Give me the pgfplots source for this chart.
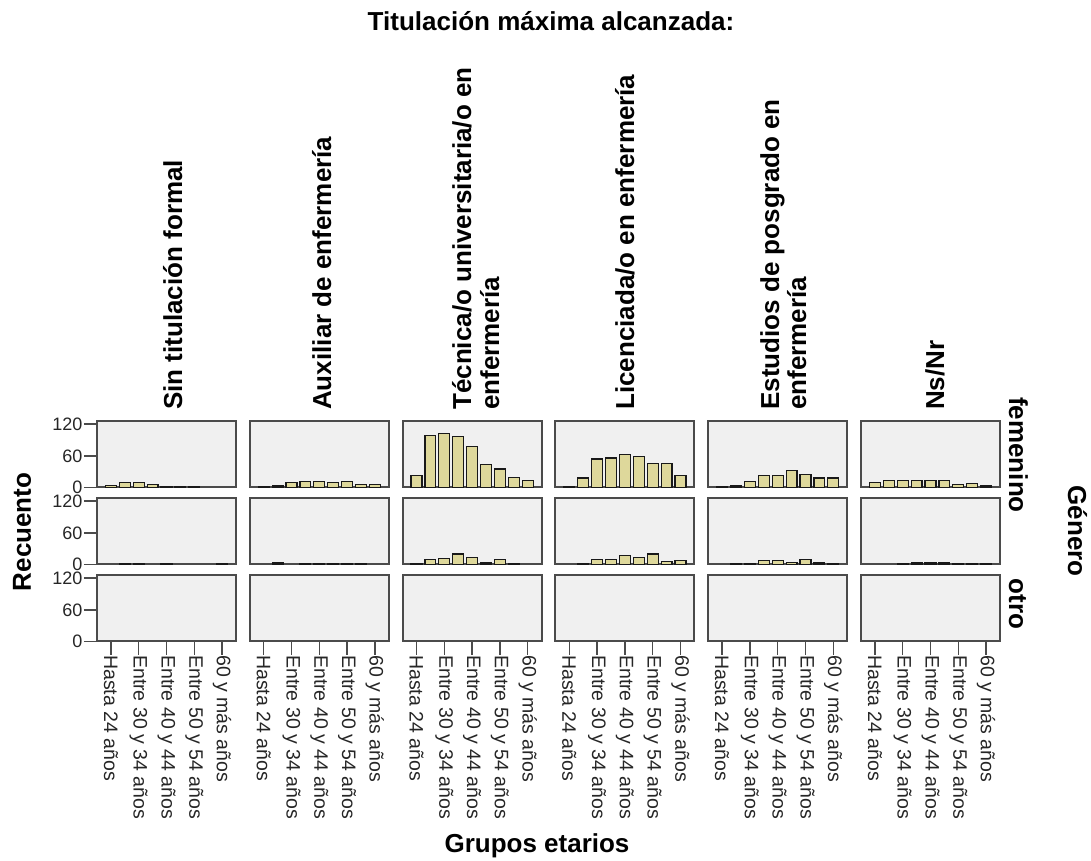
\documentclass[border=0pt]{standalone}
\usepackage{fontspec}
\setmainfont{Liberation Sans}
\usepackage{pgfplots}
\pgfplotsset{compat=1.18}
\definecolor{panelbg}{RGB}{240,240,240}
\definecolor{framecol}{RGB}{75,75,75}
\definecolor{barfill}{RGB}{222,216,155}
\pgfplotsset{
 panel/.style={
  scale only axis, width=139pt, height=66.5pt, anchor=south west,
  xmin=0, xmax=10, ymin=0, ymax=126,
  axis background/.style={fill=panelbg},
  axis line style={draw=framecol, line width=2pt},
  xtick=\empty, ytick=\empty,
  tick style={draw=framecol, line width=1.5pt},
  tick align=outside, major tick length=13pt,
  /pgf/number format/assume math mode=true,
  ticklabel style={text=black!85},
  yticklabel style={font=\fontsize{18}{20}\selectfont, inner sep=1.5pt},
  xticklabel style={font=\fontsize{19.5}{21}\selectfont},
 },
 firstcol/.style={ytick={0,60,120}, ytick pos=left},
 lastrow/.style={xtick={1,3,5,7,9},
  xticklabels={Hasta 24 años, Entre 30 y 34 años, Entre 40 y 44 años, Entre 50 y 54 años, 60 y más años},
  xtick pos=bottom, xticklabel style={rotate=-90, anchor=west, inner sep=0.5pt}},
 bars/.style={ybar, bar width=0.78, fill=barfill, draw=black!90, line width=1.2pt},
}
\newcommand\hdr{\fontsize{26}{30}\selectfont\bfseries}
\begin{document}
\begin{tikzpicture}[x=1pt,y=1pt]
\useasboundingbox (0,0) rectangle (1091,861);
% ---- row 1: femenino ----
\begin{axis}[panel, firstcol, at={(97pt,373.5pt)}]
\addplot[bars] coordinates {(1,4) (2,9) (3,10) (4,5) (5,1) (6,1) (7,1)};
\end{axis}
\begin{axis}[panel, at={(249.8pt,373.5pt)}]
\addplot[bars] coordinates {(1,2) (2,3) (3,9) (4,11) (5,11) (6,9) (7,12) (8,5) (9,5)};
\end{axis}
\begin{axis}[panel, at={(402.6pt,373.5pt)}]
\addplot[bars] coordinates {(1,22) (2,98) (3,102) (4,97) (5,77) (6,44) (7,35) (8,19) (9,13)};
\end{axis}
\begin{axis}[panel, at={(555.4pt,373.5pt)}]
\addplot[bars] coordinates {(1,1) (2,18) (3,54) (4,56) (5,63) (6,58) (7,46) (8,46) (9,22)};
\end{axis}
\begin{axis}[panel, at={(708.2pt,373.5pt)}]
\addplot[bars] coordinates {(1,1) (2,3) (3,11) (4,22) (5,22) (6,32) (7,24) (8,18) (9,18)};
\end{axis}
\begin{axis}[panel, at={(861pt,373.5pt)}]
\addplot[bars] coordinates {(1,9) (2,13) (3,13) (4,14) (5,14) (6,13) (7,6) (8,8) (9,3)};
\end{axis}
% ---- row 2 ----
\begin{axis}[panel, firstcol, at={(97pt,296.5pt)}]
\addplot[bars] coordinates {(2,1) (3,1) (5,1) (9,1)};
\end{axis}
\begin{axis}[panel, at={(249.8pt,296.5pt)}]
\addplot[bars] coordinates {(2,3) (4,2) (5,1) (6,2) (7,1) (8,1)};
\end{axis}
\begin{axis}[panel, at={(402.6pt,296.5pt)}]
\addplot[bars] coordinates {(1,2) (2,9) (3,11) (4,20) (5,13) (6,3) (7,9) (8,2)};
\end{axis}
\begin{axis}[panel, at={(555.4pt,296.5pt)}]
\addplot[bars] coordinates {(2,1) (3,9) (4,9) (5,17) (6,13) (7,20) (8,6) (9,8)};
\end{axis}
\begin{axis}[panel, at={(708.2pt,296.5pt)}]
\addplot[bars] coordinates {(2,1) (3,2) (4,7) (5,8) (6,4) (7,10) (8,3) (9,1)};
\end{axis}
\begin{axis}[panel, at={(861pt,296.5pt)}]
\addplot[bars] coordinates {(3,1) (4,3) (5,3) (6,3) (7,2) (8,1) (9,1)};
\end{axis}
% ---- row 3: otro ----
\begin{axis}[panel, firstcol, lastrow, at={(97pt,219.5pt)}]
\end{axis}
\begin{axis}[panel, lastrow, at={(249.8pt,219.5pt)}]
\end{axis}
\begin{axis}[panel, lastrow, at={(402.6pt,219.5pt)}]
\end{axis}
\begin{axis}[panel, lastrow, at={(555.4pt,219.5pt)}]
\end{axis}
\begin{axis}[panel, lastrow, at={(708.2pt,219.5pt)}]
\end{axis}
\begin{axis}[panel, lastrow, at={(861pt,219.5pt)}]
\end{axis}
% ---- texts ----
\node[anchor=base, inner sep=0pt, font=\hdr] at (551,830) {Titulación máxima alcanzada:};
\node[anchor=base, inner sep=0pt, font=\hdr] at (537,9) {Grupos etarios};
\node[anchor=base, inner sep=0pt, rotate=90, font=\hdr] at (31,329) {Recuento};
\node[anchor=base, inner sep=0pt, rotate=-90, font=\hdr] at (1068,330) {Género};
\node[anchor=base, inner sep=0pt, rotate=-90, font=\hdr] at (1009,406) {femenino};
\node[anchor=base, inner sep=0pt, rotate=-90, font=\hdr] at (1009,257) {otro};
\node[anchor=base west, inner sep=0pt, rotate=90, font=\hdr] at (182,451) {Sin titulación formal};
\node[anchor=base west, inner sep=0pt, rotate=90, font=\hdr] at (331,451) {Auxiliar de enfermería};
\node[anchor=base west, inner sep=0pt, rotate=90, font=\hdr] at (471,451) {Técnica/o universitaria/o en};
\node[anchor=base west, inner sep=0pt, rotate=90, font=\hdr] at (499,451) {enfermería};
\node[anchor=base west, inner sep=0pt, rotate=90, font=\hdr] at (634,451) {Licenciada/o en enfermería};
\node[anchor=base west, inner sep=0pt, rotate=90, font=\hdr] at (779,451) {Estudios de posgrado en};
\node[anchor=base west, inner sep=0pt, rotate=90, font=\hdr] at (806,451) {enfermería};
\node[anchor=base west, inner sep=0pt, rotate=90, font=\hdr] at (944,451) {Ns/Nr};
\end{tikzpicture}
\end{document}
